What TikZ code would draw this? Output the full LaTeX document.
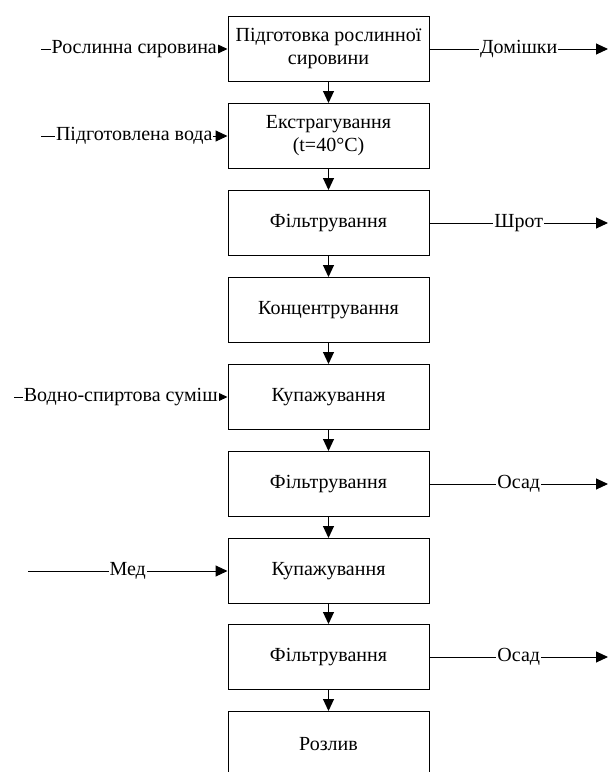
\documentclass[tikz,border=0pt]{standalone}
\usepackage{fontspec}
\setmainfont{Liberation Serif}
\usetikzlibrary{arrows.meta}

\tikzstyle{flowfig}=[x=1pt,y=-1pt,line width=1pt,font=\fontsize{20}{23}\selectfont]
\tikzstyle{stage}=[draw,minimum width=201pt,minimum height=65pt,align=center,inner sep=2pt]
\tikzstyle{flow}=[-{Triangle[length=12pt,width=11pt]}]
\tikzstyle{tag}=[fill=white,inner sep=1pt]

\begin{document}
\begin{tikzpicture}[style=flowfig]
\useasboundingbox (0,0) rectangle (610,772);

% stages
\node[stage] (prep) at (328.5,49) {Підготовка рослинної\\сировини};
\node[stage] (extr) at (328.5,136) {Екстрагування\\(t=40°C)};
\node[stage] (filt1) at (328.5,223) {Фільтрування};
\node[stage] (conc) at (328.5,310) {Концентрування};
\node[stage] (blend1) at (328.5,397) {Купажування};
\node[stage] (filt2) at (328.5,484) {Фільтрування};
\node[stage] (blend2) at (328.5,571) {Купажування};
\node[stage] (filt3) at (328.5,657) {Фільтрування};
\node[stage] (bottl) at (328.5,744) {Розлив};

\draw[flow] (prep) -- (extr);
\draw[flow] (extr) -- (filt1);
\draw[flow] (filt1) -- (conc);
\draw[flow] (conc) -- (blend1);
\draw[flow] (blend1) -- (filt2);
\draw[flow] (filt2) -- (blend2);
\draw[flow] (blend2) -- (filt3);
\draw[flow] (filt3) -- (bottl);

% inputs
\coordinate (in1) at (41,49);
\coordinate (in2) at (41,136);
\coordinate (in3) at (14,397);
\coordinate (in4) at (28,571);
\draw[flow] (in1) -- node[tag] {Рослинна сировина} (prep.west);
\draw[flow] (in2) -- node[tag] {Підготовлена вода} (extr.west);
\draw[flow] (in3) -- node[tag] {Водно-спиртова суміш} (blend1.west);
\draw[flow] (in4) -- node[tag] {Мед} (blend2.west);

% outputs
\coordinate (out1) at (608,49);
\coordinate (out2) at (608,223);
\coordinate (out3) at (608,484);
\coordinate (out4) at (608,657);
\draw[flow] (prep.east) -- node[tag] {Домішки} (out1);
\draw[flow] (filt1.east) -- node[tag] {Шрот} (out2);
\draw[flow] (filt2.east) -- node[tag] {Осад} (out3);
\draw[flow] (filt3.east) -- node[tag] {Осад} (out4);
\end{tikzpicture}
\end{document}
